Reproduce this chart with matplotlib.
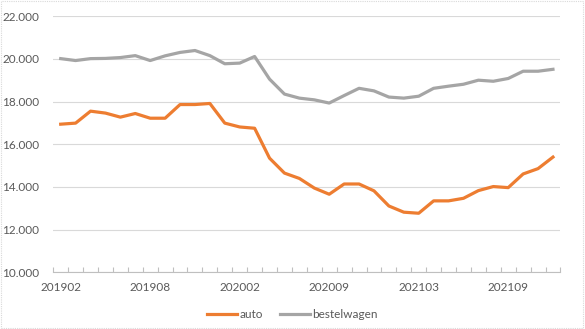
import matplotlib
matplotlib.use("Agg")
import matplotlib.pyplot as plt
from matplotlib.ticker import FixedLocator

months = ["201902", "201903", "201904", "201905", "201906", "201907", "201908",
          "201909", "201910", "201911", "201912", "202001", "202002", "202003",
          "202005", "202006", "202007", "202008", "202009", "202010", "202011",
          "202012", "202101", "202102", "202103", "202104", "202105", "202106",
          "202107", "202108", "202109", "202110", "202111", "202112"]

auto = [16940, 16990, 17550, 17460, 17270, 17440, 17220, 17220, 17860, 17860,
        17910, 16990, 16810, 16750, 15350, 14650, 14400, 13950, 13660, 14140,
        14140, 13820, 13110, 12820, 12770, 13350, 13350, 13470, 13830, 14020,
        13970, 14610, 14860, 15400]

bestelwagen = [20010, 19920, 20010, 20020, 20060, 20150, 19920, 20140, 20300, 20390,
               20150, 19770, 19800, 20110, 19050, 18350, 18160, 18080, 17930, 18280,
               18620, 18500, 18210, 18160, 18250, 18620, 18720, 18810, 19000, 18950,
               19080, 19420, 19420, 19510]

y_ticks = [10000, 12000, 14000, 16000, 18000, 20000, 22000]
y_labels = ["10.000", "12.000", "14.000", "16.000", "18.000", "20.000", "22.000"]

plt.rcParams['font.family'] = ['Lato', 'DejaVu Sans']

fig = plt.figure(figsize=(5.85, 3.29), dpi=100)
ax = fig.add_axes([0.091, 0.172, 0.867, 0.779])

x = list(range(len(months)))
ax.plot(x, auto, color="#ED7D31", lw=2.3, label="auto", solid_joinstyle="round")
ax.plot(x, bestelwagen, color="#A5A5A5", lw=2.3, label="bestelwagen", solid_joinstyle="round")

ax.set_xlim(-0.5, len(months) - 0.5)
ax.set_ylim(10000, 22000)
ax.set_yticks(y_ticks)
ax.set_yticklabels(y_labels)
ax.yaxis.grid(True, color="#D9D9D9", lw=0.8)
ax.set_axisbelow(True)

major = x[::6]
ax.set_xticks(major)
ax.set_xticklabels([months[i] for i in major])
ax.xaxis.set_minor_locator(FixedLocator([i - 0.5 for i in range(len(months) + 1)]))
ax.tick_params(axis="x", which="major", length=0, pad=7, labelsize=8.5, colors="#595959")
ax.tick_params(axis="x", which="minor", direction="in", length=3.5, color="#BFBFBF", width=0.8)
ax.tick_params(axis="y", length=0, pad=10, labelsize=8.5, colors="#595959")

for s in ["top", "right", "left"]:
    ax.spines[s].set_visible(False)
ax.spines["bottom"].set_color("#BFBFBF")
ax.spines["bottom"].set_linewidth(0.8)

leg = fig.legend(loc="center", bbox_to_anchor=(0.5, 0.043), ncol=2, frameon=False,
                 fontsize=8.5, handlelength=2.5, handletextpad=0.2, columnspacing=1.5)
for t in leg.get_texts():
    t.set_color("#595959")

fig.patches.append(plt.Rectangle((0.002, 0.002), 0.994, 0.996, transform=fig.transFigure,
                                 fill=False, edgecolor="#D9D9D9", lw=0.8, ls=(0, (1, 1))))

fig.savefig("out.png", dpi=100)
